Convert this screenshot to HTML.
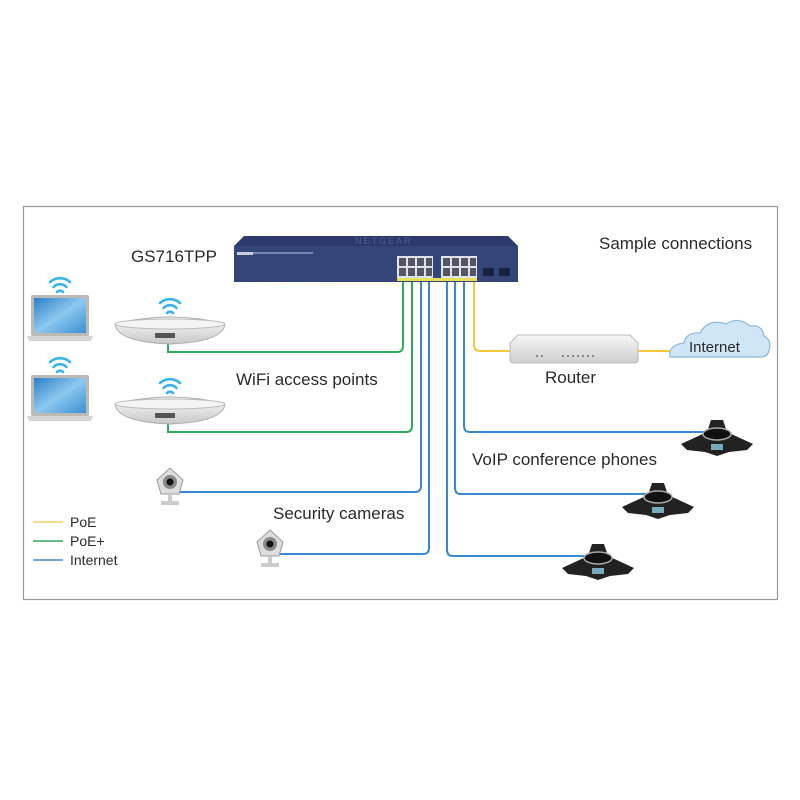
<!DOCTYPE html>
<html><head><meta charset="utf-8"><style>
html,body{margin:0;padding:0;background:#fff;width:800px;height:800px;overflow:hidden}
text{font-family:"Liberation Sans",sans-serif;fill:#2a2a2a}
</style></head><body>
<svg width="800" height="800" viewBox="0 0 800 800" xmlns="http://www.w3.org/2000/svg">
<defs>
<radialGradient id="glow" cx="50%" cy="0%" r="70%">
<stop offset="0" stop-color="#ffd84a" stop-opacity="1"/><stop offset="1" stop-color="#fff6c8" stop-opacity="0"/>
</radialGradient>
<linearGradient id="scr" x1="0" y1="0" x2="1" y2="1"><stop offset="0" stop-color="#2a7fc8"/><stop offset="0.5" stop-color="#8cc8ee"/><stop offset="1" stop-color="#3b8fd4"/></linearGradient>
<linearGradient id="apg" x1="0" y1="0" x2="0" y2="1"><stop offset="0" stop-color="#fafafa"/><stop offset="1" stop-color="#c8c8c8"/></linearGradient>
<linearGradient id="rt" x1="0" y1="0" x2="0" y2="1"><stop offset="0" stop-color="#f6f6f6"/><stop offset="1" stop-color="#cfcfcf"/></linearGradient>
<g id="wifi" fill="none" stroke="#3bb3ea" stroke-width="2.6" stroke-linecap="round">
<path d="M-10,-7 A15,15 0 0 1 10,-7"/><path d="M-6.5,-2 A9,9 0 0 1 6.5,-2"/><path d="M-3,3 A4,4 0 0 1 3,3"/>
</g>
<g id="laptop">
<rect x="0" y="0" width="58" height="41" rx="2" fill="#bfb9b3"/>
<rect x="3" y="3" width="52" height="35" fill="url(#scr)"/>
<path d="M-4,41 L62,41 L60,46 L-2,46 Z" fill="#d4d4d4"/>
</g>
<g id="apdev">
<path d="M0,8 Q55,-6 110,8 Q108,26 55,28 Q2,26 0,8 Z" fill="url(#apg)" stroke="#aaa" stroke-width="1"/>
<ellipse cx="55" cy="8" rx="55" ry="5" fill="#f4f4f4" stroke="#bbb"/>
<rect x="40" y="17" width="20" height="5" fill="#555"/>
</g>
<g id="cam">
<path d="M0,-14 L13,-2 L9,12 L-9,12 L-13,-2 Z" fill="#ddd" stroke="#999"/>
<circle cx="0" cy="0" r="7" fill="#888"/><circle cx="0" cy="0" r="3.5" fill="#111"/>
<rect x="-2" y="12" width="4" height="8" fill="#ccc"/><rect x="-9" y="19" width="18" height="4" fill="#ccc"/>
</g>
<g id="phone">
<path d="M-6,-16 L6,-16 L10,-4 L36,8 L30,14 L12,16 L0,20 L-12,16 L-30,14 L-36,8 L-10,-4 Z" fill="#222"/>
<ellipse cx="0" cy="-2" rx="14" ry="6" fill="#111" stroke="#aaa" stroke-width="1.5"/>
<rect x="-6" y="8" width="12" height="6" fill="#7ab"/>
</g>
</defs>

<rect x="23.5" y="206.5" width="754" height="393" fill="#fff" stroke="#9a9a9a" stroke-width="1.2"/>

<ellipse cx="376" cy="282" rx="145" ry="18" fill="url(#glow)"/>

<!-- switch -->
<path d="M244,236 L508,236 L518,246 L518,282 L234,282 L234,246 Z" fill="#2c3a6b"/>
<rect x="234" y="246" width="284" height="36" fill="#344679"/>
<text x="355" y="244" font-size="9" style="fill:#4f5f8e" letter-spacing="2">NETGEAR</text>
<rect x="237" y="252" width="16" height="3" fill="#ccd"/>
<rect x="253" y="252" width="60" height="2" fill="#7888b0"/>
<g fill="#dfe3ea">
<rect x="397" y="256" width="36" height="22"/><rect x="441" y="256" width="36" height="22"/>
</g>
<g fill="#556">
<rect x="399" y="258" width="7" height="8"/><rect x="408" y="258" width="7" height="8"/><rect x="417" y="258" width="7" height="8"/><rect x="426" y="258" width="6" height="8"/>
<rect x="399" y="268" width="7" height="8"/><rect x="408" y="268" width="7" height="8"/><rect x="417" y="268" width="7" height="8"/><rect x="426" y="268" width="6" height="8"/>
<rect x="443" y="258" width="7" height="8"/><rect x="452" y="258" width="7" height="8"/><rect x="461" y="258" width="7" height="8"/><rect x="470" y="258" width="6" height="8"/>
<rect x="443" y="268" width="7" height="8"/><rect x="452" y="268" width="7" height="8"/><rect x="461" y="268" width="7" height="8"/><rect x="470" y="268" width="6" height="8"/>
</g>
<rect x="483" y="268" width="11" height="8" fill="#1a2240"/><rect x="499" y="268" width="11" height="8" fill="#1a2240"/>
<rect x="397" y="278" width="80" height="3" fill="#e8e05a"/>

<!-- cables -->
<g fill="none" stroke-width="2">
<path d="M403,282 V346 Q403,352 397,352 H168 V340" stroke="#2eaa5a"/>
<path d="M412,282 V426 Q412,432 406,432 H168 V420" stroke="#2eaa5a"/>
<path d="M421,282 V486 Q421,492 415,492 H178" stroke="#3a88d0"/>
<path d="M429,282 V548 Q429,554 423,554 H278" stroke="#3a88d0"/>
<path d="M447,282 V550 Q447,556 453,556 H598" stroke="#3a88d0"/>
<path d="M455,282 V488 Q455,494 461,494 H650" stroke="#3a88d0"/>
<path d="M464,282 V426 Q464,432 470,432 H710" stroke="#3a88d0"/>
<path d="M474,282 V345 Q474,351 480,351 H512" stroke="#f0c83a"/>
<path d="M636,351 H672" stroke="#f0c83a"/>
</g>

<!-- laptops -->
<use href="#wifi" x="60" y="289"/>
<use href="#laptop" x="31" y="295"/>
<use href="#wifi" x="60" y="369"/>
<use href="#laptop" x="31" y="375"/>

<!-- APs -->
<use href="#wifi" x="170" y="310"/>
<use href="#apdev" x="115" y="316"/>
<use href="#wifi" x="170" y="390"/>
<use href="#apdev" x="115" y="396"/>

<!-- cameras -->
<use href="#cam" x="170" y="482"/>
<use href="#cam" x="270" y="544"/>

<!-- router -->
<path d="M518,335 L630,335 L638,343 L638,360 Q638,363 634,363 L514,363 Q510,363 510,360 L510,343 Z" fill="url(#rt)" stroke="#bbb"/>
<g fill="#888"><rect x="536" y="355" width="2" height="2"/><rect x="541" y="355" width="2" height="2"/>
<rect x="562" y="355" width="2" height="2"/><rect x="567" y="355" width="2" height="2"/><rect x="572" y="355" width="2" height="2"/><rect x="577" y="355" width="2" height="2"/><rect x="582" y="355" width="2" height="2"/><rect x="587" y="355" width="2" height="2"/><rect x="592" y="355" width="2" height="2"/></g>

<!-- cloud -->
<path d="M670,357 Q668,345 684,343 Q686,332 700,333 Q708,318 726,324 Q738,316 750,326 Q762,324 764,336 Q772,340 769,350 Q768,357 760,357 Z" fill="#cfe6f6" stroke="#8fb8d8" stroke-width="1.2"/>

<!-- phones -->
<use href="#phone" x="717" y="436"/>
<use href="#phone" x="658" y="499"/>
<use href="#phone" x="598" y="560"/>

<!-- labels -->
<text x="131" y="262" font-size="17">GS716TPP</text>
<text x="599" y="249" font-size="17">Sample connections</text>
<text x="689" y="352" font-size="15">Internet</text>
<text x="545" y="383" font-size="17">Router</text>
<text x="236" y="385" font-size="17">WiFi access points</text>
<text x="472" y="465" font-size="17">VoIP conference phones</text>
<text x="273" y="519" font-size="17">Security cameras</text>

<!-- legend -->
<line x1="33" y1="522" x2="63" y2="522" stroke="#f0d060" stroke-width="1.5"/>
<line x1="33" y1="541" x2="63" y2="541" stroke="#2eaa5a" stroke-width="1.5"/>
<line x1="33" y1="560" x2="63" y2="560" stroke="#3a88d0" stroke-width="1.5"/>
<text x="70" y="527" font-size="14">PoE</text>
<text x="70" y="546" font-size="14">PoE+</text>
<text x="70" y="565" font-size="14">Internet</text>
</svg>
</body></html>
